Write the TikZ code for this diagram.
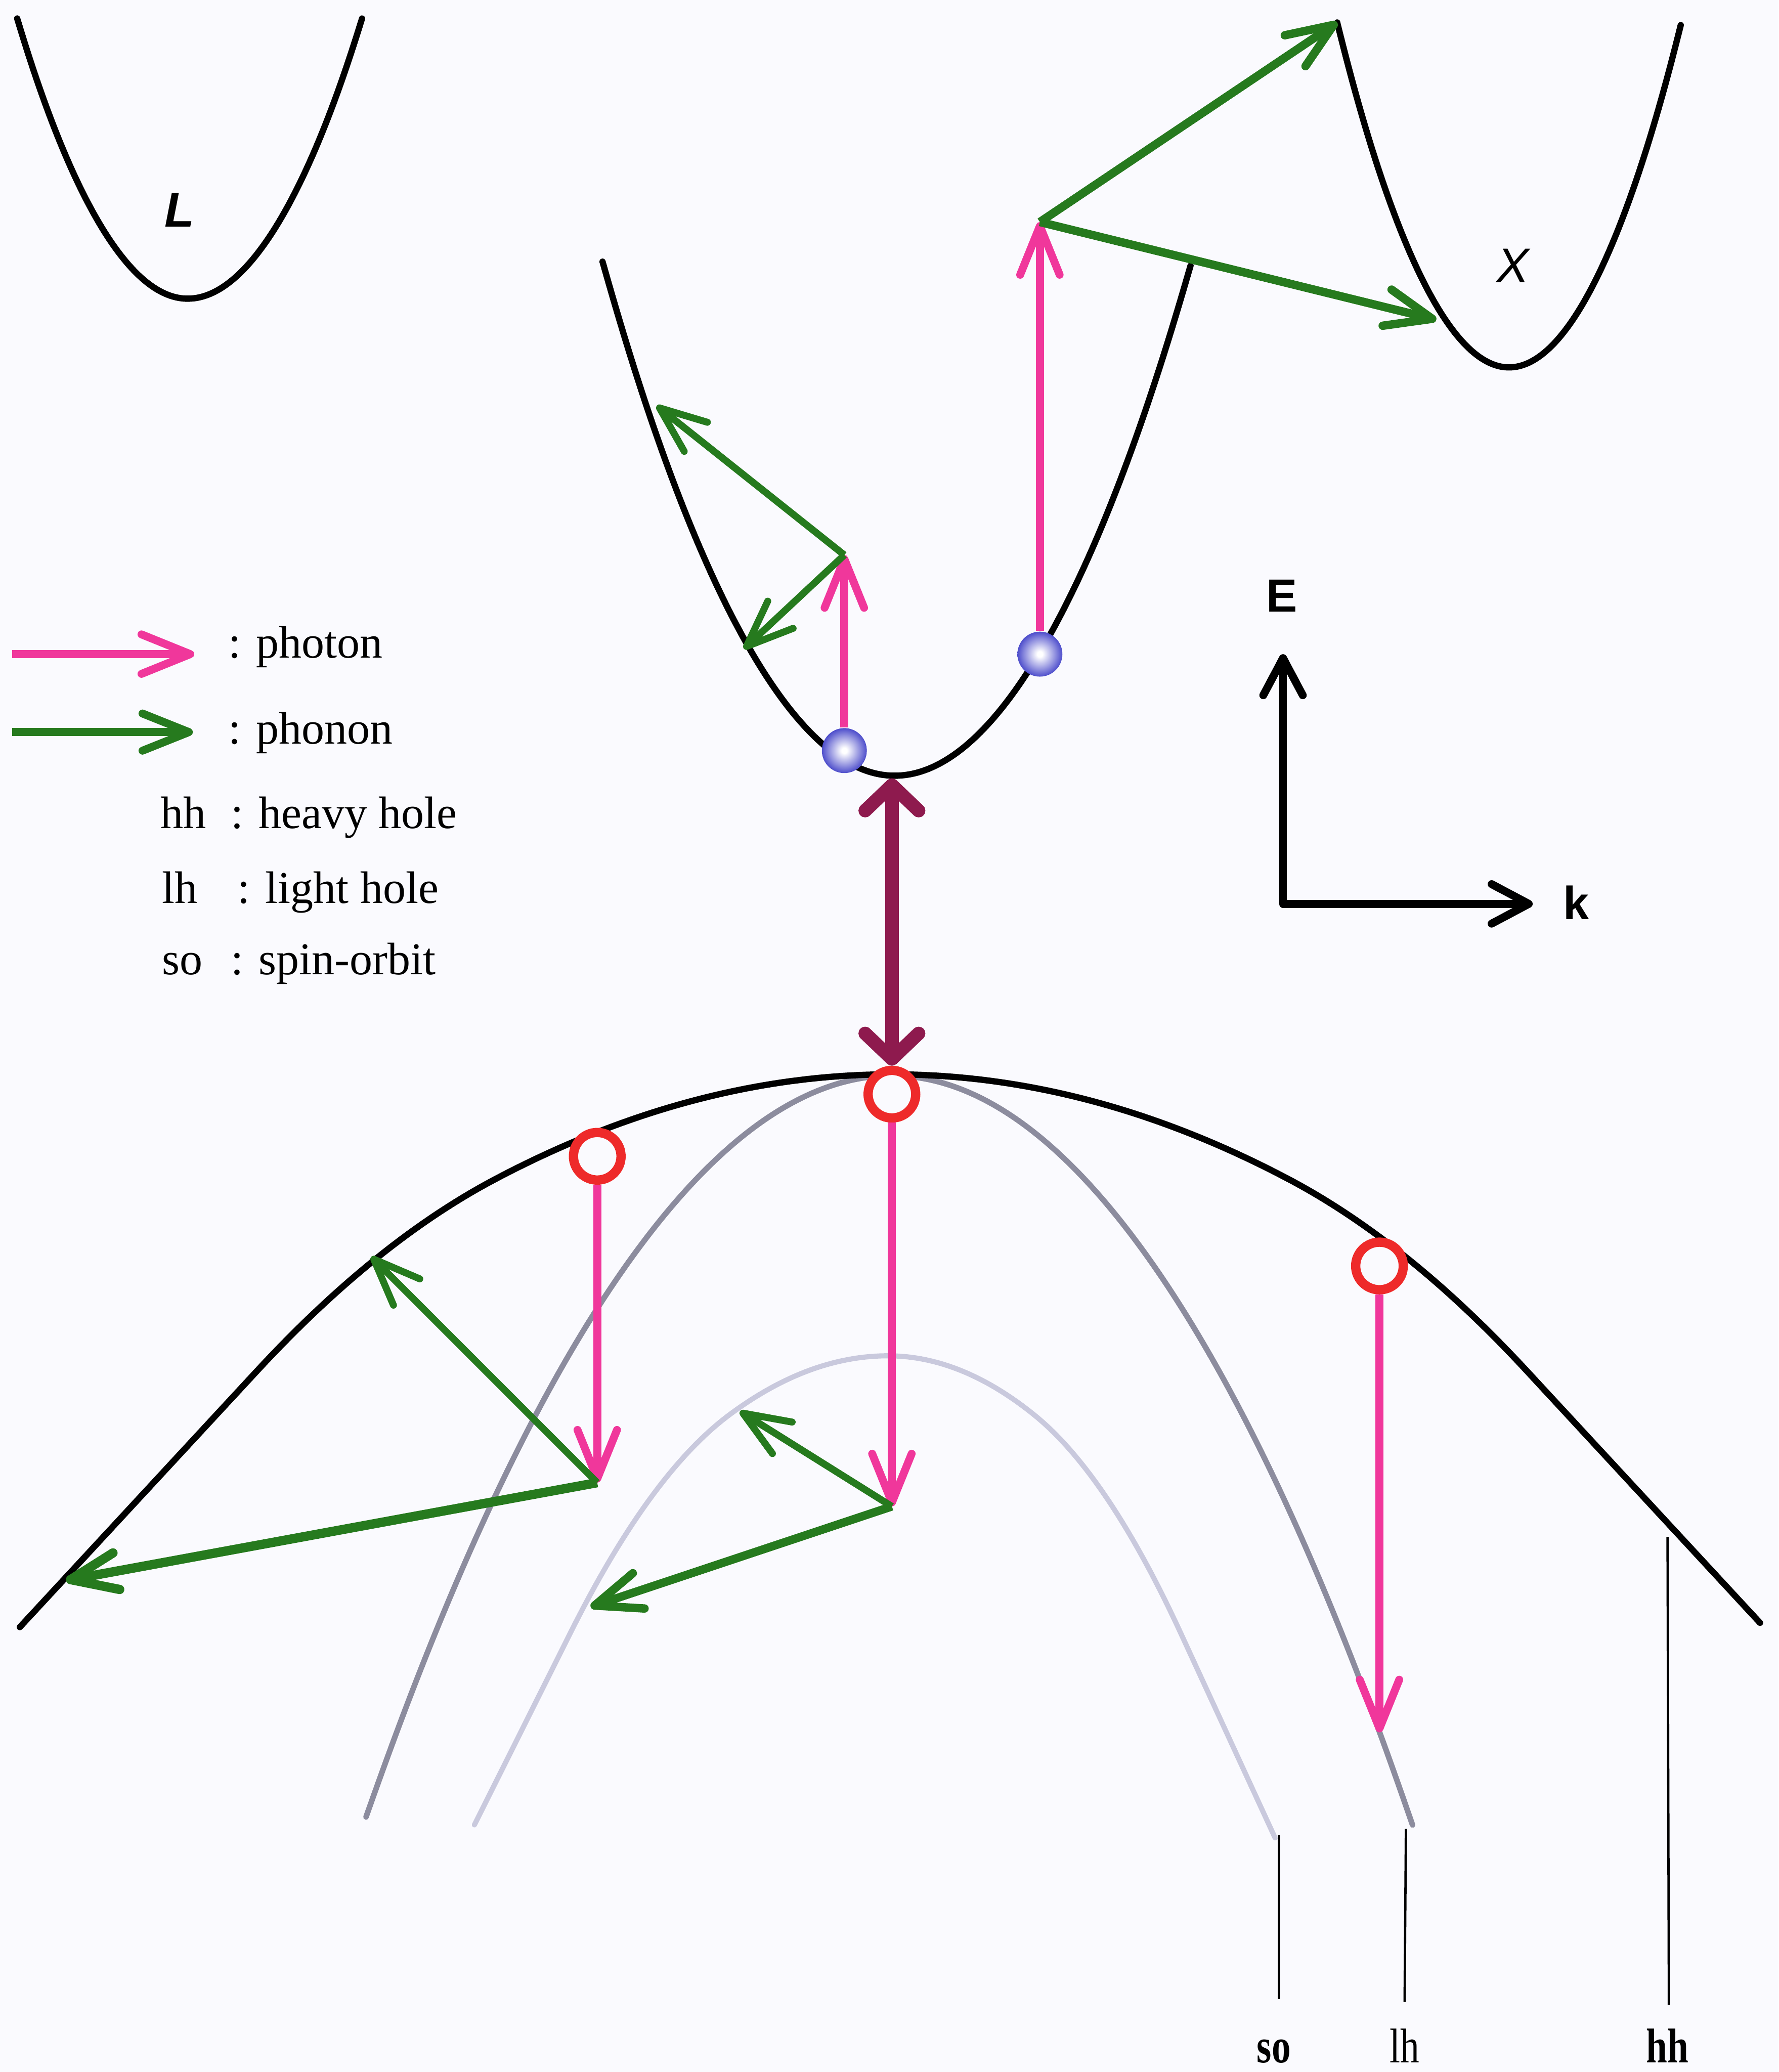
\documentclass[tikz,border=0pt]{standalone}
\usepackage{fontspec}
\setmainfont{Liberation Serif}
\setsansfont{Liberation Sans}
\usetikzlibrary{arrows.meta}
\definecolor{bg}{HTML}{FAFAFE}
\definecolor{pinkc}{HTML}{F0379B}
\definecolor{greenc}{HTML}{267A1E}
\definecolor{redc}{HTML}{EE2A2A}
\definecolor{maroonc}{HTML}{8E1A4E}
\definecolor{lhgrey}{HTML}{8C8C9E}
\definecolor{sogrey}{HTML}{C9C9DD}
\definecolor{bluedot}{HTML}{3434C4}
\pgfdeclareradialshading{edotshade}{\pgfpoint{0bp}{0bp}}{color(0bp)=(white); color(3bp)=(white); color(17bp)=(bluedot!55!white); color(28bp)=(bluedot); color(50bp)=(bluedot!80!black)}
\begin{document}
\begin{tikzpicture}[x=0.01cm, y=-0.01cm,
  declare function={
    hhF(\u)=(min(abs(\u),300)/33.71)^2 + 0.528*min(max(abs(\u)-300,0),180) + (0.03916*min(max(abs(\u)-300,0),180))^2 + 1.08*max(abs(\u)-480,0);
    soF(\u)=(min(max(-\u,1.085*\u),120)/17.96)^2 + 0.744*min(max(max(-\u,1.085*\u)-120,0),120.4) + (0.07222*min(max(max(-\u,1.085*\u)-120,0),120.4))^2 + 2.0*max(max(-\u,1.085*\u)-240.4,0);
  },
  band/.style={line width=1.35pt, line cap=round, line join=round},
  lhband/.style={draw=lhgrey, line width=1.2pt, line cap=round},
  soband/.style={draw=sogrey, line width=1.1pt, line cap=round, line join=round},
  photonarrow/.style={draw=pinkc, line width=1.7pt, -{Straight Barb[round,length=10.5pt,width=8.5pt]}},
  phononarrow/.style={draw=greenc, line width=1.5pt, -{Straight Barb[round,length=10pt,width=8pt]}},
  phononthick/.style={phononarrow, line width=2pt},
  gaparrow/.style={draw=maroonc, line width=2.9pt, {Straight Barb[round,length=5.5pt,width=11.5pt]}-{Straight Barb[round,length=5.5pt,width=11.5pt]}},
  axisline/.style={line width=1.7pt, line join=round, {Straight Barb[round,length=8pt,width=8.5pt]}-{Straight Barb[round,length=8pt,width=8.5pt]}},
  hole/.style={circle, draw=redc, fill=bg, line width=2pt, minimum size=0.36cm, inner sep=0pt},
  electron/.style={circle, inner sep=0pt, minimum size=0.34cm, shading=edotshade},
  lbl/.style={inner sep=0pt, anchor=base west, font=\fontsize{9.8pt}{12pt}\selectfont},
  botlbl/.style={inner sep=0pt, anchor=base, font=\fontsize{10.5pt}{12pt}\selectfont},
  axlbl/.style={inner sep=0pt, font=\sffamily\bfseries\fontsize{10pt}{12pt}\selectfont},
  tick/.style={line width=0.5pt}
]
% background and canvas
\path[fill=bg] (0,0) rectangle (1346,1568);
\useasboundingbox (0,0) rectangle (1346,1568);

% ---- valence bands ----
\draw[soband] plot[domain=-313:293, samples=153, variable=\t] ({672+\t},{1026+soF(\t)});
\draw[lhband] (277,1375) parabola bend (675,814) (1069,1381);
\draw[band] plot[domain=-660:657, samples=221, variable=\t] ({675+\t},{813+hhF(\t)});

% ---- conduction band (Gamma) ----
\draw[band] (456,198) parabola bend (677,587) (901,201);

% ---- L valley ----
\draw[band] (13,14) parabola bend (142,226) (274,14);
\node[inner sep=0pt, font=\sffamily\bfseries\itshape\fontsize{10.5pt}{12pt}\selectfont] (Llab) at (136,159) {L};

% ---- X valley ----
\draw[band] (1012,17) parabola bend (1142,278) (1272,19);
\node[inner sep=0pt, font=\sffamily\itshape\fontsize{10.5pt}{12pt}\selectfont] (Xlab) at (1145,201) {X};

% ---- axes ----
\coordinate (Etip) at (971,495);
\coordinate (O) at (971,684);
\coordinate (ktip) at (1160,684);
\draw[axisline] (Etip) -- (O) -- (ktip);
\node[axlbl] (Elab) at (970,451) {E};
\node[axlbl] (klab) at (1193,683) {k};

% ---- carriers ----
\node[hole] (h1) at (452,875) {};
\node[hole] (h2) at (675,828) {};
\node[hole] (h3) at (1044,958) {};
\node[electron] (e1) at (639,568) {};
\node[electron] (e2) at (787,495) {};

% ---- transition points ----
\coordinate (cbmin) at (675,589);
\coordinate (pA) at (639,420);
\coordinate (pB) at (787,168);
\coordinate (gA1) at (497,307);
\coordinate (gA2) at (563,491);
\coordinate (xT) at (1012,17);
\coordinate (xB) at (1087,242);
\coordinate (v1) at (452,1122);
\coordinate (v2) at (675,1140);
\coordinate (v3) at (1044,1311);
\coordinate (t11) at (281,951);
\coordinate (t12) at (50,1196);
\coordinate (t21) at (560,1068);
\coordinate (t22) at (447,1216);

% photons
\draw[photonarrow] (e1.north) -- (pA);
\draw[photonarrow] (e2.north) -- (pB);
\draw[photonarrow] (h1.south) -- (v1);
\draw[photonarrow] (h2.south) -- (v2);
\draw[photonarrow] (h3.south) -- (v3);

% phonons
\draw[phononarrow] (pA) -- (gA1);
\draw[phononarrow] (pA) -- (gA2);
\draw[phononarrow, line width=1.8pt] (pB) -- (xT);
\draw[phononarrow, line width=1.8pt] (pB) -- (xB);
\draw[phononarrow] (v1) -- (t11);
\draw[phononthick] (v1) -- (t12);
\draw[phononarrow] (v2) -- (t21);
\draw[phononarrow, line width=1.8pt] (v2) -- (t22);

% band gap
\draw[gaparrow] (cbmin) -- (h2.north);

% ---- legend ----
\coordinate (lgp0) at (9,495);
\coordinate (lgp1) at (147,495);
\coordinate (lgg0) at (9,554);
\coordinate (lgg1) at (146,554);
\draw[photonarrow] (lgp0) -- (lgp1);
\draw[phononarrow, line width=1.7pt] (lgg0) -- (lgg1);
\node[lbl] (lphoton) at (172,498) {: photon};
\node[lbl] (lphonon) at (172,563) {: phonon};
\node[lbl] (lhh) at (121,627) {hh};
\node[lbl] (lhhd) at (174,627) {: heavy hole};
\node[lbl] (llh) at (122,683.5) {lh};
\node[lbl] (llhd) at (179,683.5) {: light hole};
\node[lbl] (lso) at (122,737.5) {so};
\node[lbl] (lsod) at (174,737.5) {: spin-orbit};

% ---- band labels at bottom ----
\coordinate (soT) at (968,1389);
\coordinate (soB) at (968,1513);
\coordinate (lhT) at (1064,1384);
\coordinate (lhB) at (1063,1515);
\coordinate (hhT) at (1262,1163);
\coordinate (hhB) at (1263,1517);
\draw[tick] (soT) -- (soB);
\draw[tick] (lhT) -- (lhB);
\draw[tick] (hhT) -- (hhB);
\node[botlbl] (soname) at (964,1561) {\scalebox{0.78}[1]{\textbf{so}}};
\node[botlbl] (lhname) at (1063,1561) {\scalebox{0.78}[1]{lh}};
\node[botlbl] (hhname) at (1262,1561) {\scalebox{0.78}[1]{\textbf{hh}}};
\end{tikzpicture}
\end{document}
